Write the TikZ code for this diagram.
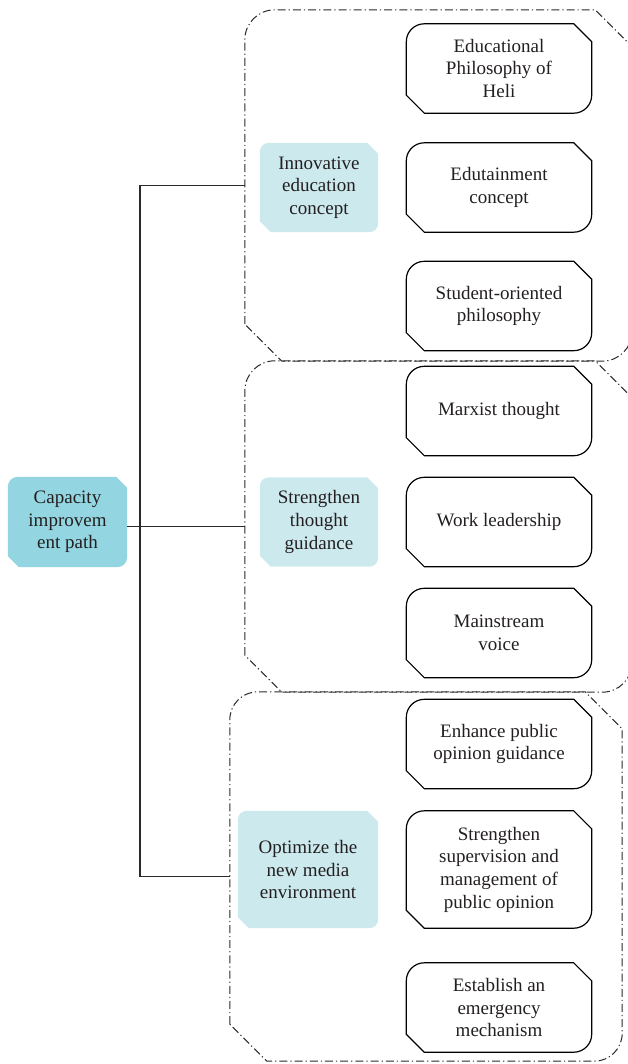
\documentclass[tikz,border=0pt]{standalone}
\usepackage{fontspec}
\setmainfont{Liberation Serif}
\usetikzlibrary{calc}
\definecolor{tealdark}{HTML}{93D5E0}
\definecolor{teallight}{HTML}{CCE9EE}
\definecolor{ink}{HTML}{231F20}
\definecolor{linec}{HTML}{2A2A2A}
\newcommand\octline[4][]{%
 \path[#1] ([yshift=#4]#2.south west) -- ([yshift=-#3]#2.north west)
   arc[start angle=180,end angle=90,radius=#3] -- ([xshift=-#4]#2.north east)
   -- ([yshift=-#4]#2.north east) -- ([yshift=#3]#2.south east)
   arc[start angle=0,end angle=-90,radius=#3] -- ([xshift=#4]#2.south west) -- cycle;}
\begin{document}
\begin{tikzpicture}[x=1pt,y=-1pt,
  font=\fontsize{19}{22.7}\selectfont,
  txt/.style={text=ink,align=center,inner sep=0pt,anchor=center},
  leaf/.style={txt,minimum width=185pt,minimum height=89pt},
  cat/.style={txt,minimum width=118pt,minimum height=89pt},
  frame/.style={inner sep=0pt,anchor=center},
  outl/.style={draw=black,line width=1.2pt},
  dd/.style={draw=linec,line width=1pt,dash pattern=on 8pt off 3pt on 1.2pt off 3pt},
  conn/.style={draw=linec,line width=1.2pt}]
\useasboundingbox (0,0) rectangle (628,1064);

% containers
\node[frame,minimum width=387pt,minimum height=351pt] (c1) at (438.5,185.5) {};
\node[frame,minimum width=387pt,minimum height=331pt] (c2) at (438.5,526.5) {};
\node[frame,minimum width=392pt,minimum height=369pt] (c3) at (426,876.5) {};
\octline[dd]{c1}{30pt}{37pt}
\octline[dd]{c2}{30pt}{37pt}
\octline[dd]{c3}{28pt}{37pt}

% category boxes
\node[cat,minimum width=119pt,minimum height=90pt] (cap) at (67.5,522) {};
\node[cat] (innov) at (319,187.5) {};
\node[cat] (stren) at (319,522) {};
\node[cat,minimum width=140pt,minimum height=117pt] (optim) at (308,869.5) {};
\octline[fill=tealdark]{cap}{10pt}{11pt}
\octline[fill=teallight]{innov}{9pt}{11pt}
\octline[fill=teallight]{stren}{9pt}{11pt}
\octline[fill=teallight]{optim}{9pt}{11pt}
\node[txt] at (cap) {Capacity\\improvem\\ent path};
\node[txt] at (innov) {Innovative\\education\\concept};
\node[txt] at (stren) {Strengthen\\thought\\guidance};
\node[txt] at (optim) {Optimize the\\new media\\environment};

% leaves
\node[leaf] (b1) at (499,68.5) {Educational\\Philosophy of\\Heli};
\node[leaf] (b2) at (499,187.5) {Edutainment\\concept};
\node[leaf] (b3) at (499,306) {Student-oriented\\philosophy};
\node[leaf] (b4) at (499,411) {Marxist thought};
\node[leaf] (b5) at (499,522) {Work leadership};
\node[leaf] (b6) at (499,633) {Mainstream\\voice};
\node[leaf] (b7) at (499,744) {Enhance public\\opinion guidance};
\node[leaf,minimum height=117pt] (b8) at (499,869.5) {Strengthen\\supervision and\\management of\\public opinion};
\node[leaf] (b9) at (499,1007.5) {Establish an\\emergency\\mechanism};
\foreach \b in {b1,b2,b3,b4,b5,b6,b7,b8,b9}{\octline[outl]{\b}{18pt}{18pt}}

% connectors
\coordinate (j) at (140,526.5);
\draw[conn] (c1.west) -| (j) |- (c3.west);
\draw[conn] (c2.west -| cap.east) -- (c2.west);
\end{tikzpicture}
\end{document}
